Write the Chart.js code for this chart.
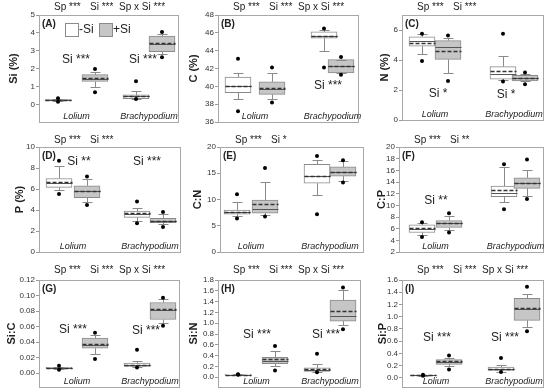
<!DOCTYPE html>
<html>
<head>
<meta charset="utf-8">
<script src="https://cdn.jsdelivr.net/npm/chart.js@4/dist/chart.umd.min.js"></script>
<style>
	body { margin: 0; width: 550px; height: 391px; background: #fff; position: relative; overflow: hidden; }
	.panel { position: absolute; }
</style>
</head>
<body>
<script>
const species = ["Lolium", "Brachypodium"];
const treatments = ["-Si", "+Si"];

// each box: [low whisker, Q1, median, mean, Q3, high whisker]
// order: Lolium -Si, Lolium +Si, Brachypodium -Si, Brachypodium +Si
const siStats = [[0.21, 0.23, 0.26, 0.26, 0.29, 0.32], [1.0, 1.3, 1.45, 1.47, 1.68, 1.85], [0.35, 0.35, 0.47, 0.5, 0.56, 0.75], [2.85, 2.96, 3.4, 3.45, 3.83, 3.92]];
const siDots = [[0.18, 0.37], [0.7, 2.0], [0.33, 1.32], [2.65, 4.05]];
const cStats = [[38.6, 39.3, 40.0, 40.05, 41.05, 41.5], [38.6, 39.1, 39.7, 39.8, 40.5, 41.5], [44.0, 45.4, 45.6, 45.7, 46.1, 46.3], [41.5, 41.5, 42.3, 42.3, 43.0, 43.0]];
const cDots = [[37.2, 43.1], [38.2, 42.1], [42.1, 46.5], [41.3, 43.3]];
const nStats = [[4.38, 4.93, 5.3, 5.15, 5.55, 5.75], [3.11, 4.04, 4.84, 4.6, 5.29, 5.49], [2.65, 2.73, 3.1, 3.27, 3.56, 4.27], [2.6, 2.6, 2.78, 2.8, 2.98, 3.05]];
const nDots = [[3.93, 5.75], [2.6, 5.64], [2.56, 5.75], [2.38, 3.16]];
const pStats = [[5.87, 6.15, 6.6, 6.69, 7.0, 8.2], [4.8, 5.17, 5.8, 5.85, 6.3, 7.0], [3.0, 3.3, 3.65, 3.69, 3.9, 4.23], [2.65, 2.8, 3.0, 3.0, 3.2, 3.6]];
const pDots = [[5.52, 8.7], [4.48, 7.2], [2.74, 4.8], [2.37, 3.8]];
const cnStats = [[6.8, 7.2, 7.6, 7.7, 8.0, 9.5], [7.0, 7.4, 8.2, 9.1, 9.9, 13.4], [10.85, 13.1, 14.5, 14.5, 16.7, 17.5], [13.5, 14.45, 15.3, 15.3, 16.2, 17.3]];
const cnDots = [[6.4, 11.0], [6.75, 16.0], [7.2, 18.3], [13.25, 17.5]];
const cpStats = [[5.0, 5.35, 5.98, 6.05, 6.66, 6.9], [5.7, 6.2, 6.9, 6.95, 7.4, 8.2], [10.5, 11.5, 12.06, 12.7, 13.3, 16.5], [11.6, 12.9, 13.9, 13.9, 14.7, 16.0]];
const cpDots = [[4.56, 7.1], [5.35, 8.65], [9.33, 17.06], [11.1, 17.85]];
const sicStats = [[0.005, 0.0055, 0.0065, 0.0066, 0.0075, 0.008], [0.025, 0.032, 0.0364, 0.037, 0.045, 0.049], [0.008, 0.0086, 0.0105, 0.011, 0.0129, 0.016], [0.064, 0.069, 0.081, 0.082, 0.091, 0.095]];
const sicDots = [[0.0043, 0.0094], [0.018, 0.052], [0.007, 0.030], [0.061, 0.097]];
const sinStats = [[0.045, 0.045, 0.05, 0.05, 0.055, 0.055], [0.2, 0.25, 0.31, 0.34, 0.37, 0.48], [0.1, 0.106, 0.14, 0.15, 0.174, 0.25], [0.96, 1.04, 1.13, 1.22, 1.43, 1.61]];
const sinDots = [[0.045, 0.055], [0.124, 0.58], [0.093, 0.435], [0.89, 1.66]];
const sipStats = [[0.035, 0.038, 0.042, 0.042, 0.046, 0.05], [0.19, 0.22, 0.26, 0.27, 0.30, 0.33], [0.1, 0.12, 0.138, 0.14, 0.177, 0.21], [0.83, 0.94, 1.12, 1.14, 1.30, 1.37]];
const sipDots = [[0.035, 0.05], [0.138, 0.365], [0.094, 0.326], [0.76, 1.49]];

const siTicks = [0, 1, 2, 3, 4, 5];
const cTicks = [36, 38, 40, 42, 44, 46, 48];
const nTicks = [0, 2, 4, 6];
const pTicks = [0, 2, 4, 6, 8, 10];
const cnTicks = [0, 5, 10, 15, 20];
const cpTicks = [2, 4, 6, 8, 10, 12, 14, 16, 18, 20];
const sicTicks = [0, 0.02, 0.04, 0.06, 0.08, 0.10, 0.12];
const sinTicks = [0, 0.2, 0.4, 0.6, 0.8, 1.0, 1.2, 1.4, 1.6, 1.8];
const sipTicks = [0, 0.2, 0.4, 0.6, 0.8, 1.0, 1.2, 1.4, 1.6];

const all3 = ["Sp ***", "Si ***", "Sp x Si ***"];
const panels = [
	{tag: "(A)", title: "Si (%)", stats: siStats, dots: siDots, ticks: siTicks, min: -0.95, max: 5, dec: 0,
		frame: [39, 15, 139, 107], pos: [19, 56, 97, 123], gap: 25, top: all3, noteOff: 8,
		notes: [[37, 2.5, "Si ***"], [104, 2.5, "Si ***"]], legend: true},
	{tag: "(B)", title: "C (%)", stats: cStats, dots: cDots, ticks: cTicks, min: 36, max: 48, dec: 0,
		frame: [218, 15, 140, 107], pos: [20, 54, 106, 123], gap: 24, top: all3, noteOff: 8,
		notes: [[110, 40.1, "Si ***"]]},
	{tag: "(C)", title: "N (%)", stats: nStats, dots: nDots, ticks: nTicks, min: 0, max: 7, dec: 0,
		frame: [402, 15, 141, 105], pos: [20, 46, 101, 123], gap: 17, top: ["Sp ***", "Si ***"], noteOff: 8,
		notes: [[36, 1.75, "Si *"], [104, 1.7, "Si *"]]},
	{tag: "(D)", title: "P (%)", stats: pStats, dots: pDots, ticks: pTicks, min: 0, max: 10, dec: 0,
		frame: [39, 147, 141, 105], pos: [20, 48, 98, 124], gap: 19, top: ["Sp ***", "Si ***"], noteOff: 7,
		notes: [[40, 8.6, "Si **"], [108, 8.6, "Si ***"]]},
	{tag: "(E)", title: "C:N", stats: cnStats, dots: cnDots, ticks: cnTicks, min: 0, max: 20, dec: 0,
		frame: [220, 147, 143, 105], pos: [17, 45, 97, 123], gap: 22, top: ["Sp ***", "Si *"], noteOff: 7,
		notes: []},
	{tag: "(F)", title: "C:P", stats: cpStats, dots: cpDots, ticks: cpTicks, min: 2, max: 20, dec: 0,
		frame: [399, 147, 144, 105], pos: [23, 50, 105, 128], gap: 17, top: ["Sp ***", "Si **"], noteOff: 7,
		notes: [[37, 10.75, "Si **"]]},
	{tag: "(G)", title: "Si:C", stats: sicStats, dots: sicDots, ticks: sicTicks, min: -0.018, max: 0.12, dec: 2,
		frame: [39, 280, 140, 107], pos: [20, 56, 98, 124], gap: 27, top: all3, noteOff: 10,
		notes: [[34, 0.056, "Si ***"], [107, 0.054, "Si ***"]]},
	{tag: "(H)", title: "Si:N", stats: sinStats, dots: sinDots, ticks: sinTicks, min: -0.18, max: 1.8, dec: 1,
		frame: [218, 280, 142, 107], pos: [20, 57, 99, 125], gap: 24, top: all3, noteOff: 10,
		notes: [[39, 0.78, "Si ***"], [108, 0.78, "Si ***"]]},
	{tag: "(I)", title: "Si:P", stats: sipStats, dots: sipDots, ticks: sipTicks, min: -0.15, max: 1.6, dec: 1,
		frame: [402, 280, 141, 107], pos: [21, 47, 99, 125], gap: 19, top: all3, noteOff: 10,
		notes: [[35, 0.66, "Si ***"], [103, 0.66, "Si ***"]]}
];

const FONT = "'Liberation Sans', Arial, sans-serif";
const WHITE = "#ffffff", GREY = "#c6c6c6", EDGE = "#8a8a8a";
Chart.defaults.font.family = FONT;

const boxPlugin = {
	id: "boxes",
	afterDatasetDraw(chart, args, opts) {
		if (args.index !== 0) return;
		const {ctx, scales: {x, y}} = chart;
		const p = opts.panel;
		ctx.save();
		p.stats.forEach((s, i) => {
			const cx = Math.round(x.getPixelForValue(p.pos[i])) + 0.5;
			const hw = 13;
			ctx.strokeStyle = EDGE;
			ctx.lineWidth = 1;
			ctx.setLineDash([]);
			[[s[0], s[1]], [s[5], s[4]]].forEach(([w, q]) => {
				const wy = Math.round(y.getPixelForValue(w)) + 0.5;
				const qy = y.getPixelForValue(q);
				ctx.beginPath();
				ctx.moveTo(cx, qy);
				ctx.lineTo(cx, wy);
				ctx.moveTo(cx - 5, wy);
				ctx.lineTo(cx + 5, wy);
				ctx.stroke();
			});
			// median
			let my = Math.round(y.getPixelForValue(s[2])) + 0.5;
			ctx.strokeStyle = "#555";
			ctx.beginPath();
			ctx.moveTo(cx - hw, my);
			ctx.lineTo(cx + hw, my);
			ctx.stroke();
			// mean
			my = Math.round(y.getPixelForValue(s[3])) + 0.5;
			ctx.strokeStyle = "#333";
			ctx.lineWidth = 1.4;
			ctx.setLineDash([4, 2]);
			ctx.beginPath();
			ctx.moveTo(cx - hw, my);
			ctx.lineTo(cx + hw, my);
			ctx.stroke();
		});
		ctx.restore();
	},
	afterDraw(chart, args, opts) {
		const {ctx, chartArea: a, scales: {x, y}} = chart;
		const p = opts.panel;
		ctx.save();
		ctx.strokeStyle = "#a8a8a8";
		ctx.lineWidth = 1;
		ctx.strokeRect(Math.round(a.left) + 0.5, Math.round(a.top) + 0.5, Math.round(a.right - a.left), Math.round(a.bottom - a.top));

		ctx.fillStyle = "#222";
		ctx.textBaseline = "middle";
		ctx.textAlign = "left";
		ctx.font = "bold 10px " + FONT;
		ctx.fillText(p.tag, a.left + 3, a.top + 9);

		ctx.font = "10px " + FONT;
		const topX = [15, 51, 80];
		p.top.forEach((t, k) => ctx.fillText(t, a.left + topX[k], a.top - p.noteOff));

		ctx.textAlign = "center";
		ctx.font = "12px " + FONT;
		p.notes.forEach(([rx, v, t]) => ctx.fillText(t, a.left + rx, y.getPixelForValue(v)));

		ctx.font = "italic 9px " + FONT;
		species.forEach((sp, k) => {
			const mid = (p.pos[2 * k] + p.pos[2 * k + 1]) / 2;
			ctx.fillText(sp, x.getPixelForValue(mid), a.bottom - 6);
		});

		if (p.legend) {
			ctx.textAlign = "left";
			ctx.font = "12px " + FONT;
			[[26, WHITE], [60, GREY]].forEach(([rx, col], k) => {
				ctx.fillStyle = col;
				ctx.fillRect(a.left + rx, a.top + 8, 13, 13);
				ctx.strokeStyle = EDGE;
				ctx.strokeRect(a.left + rx + 0.5, a.top + 8.5, 13, 13);
				ctx.fillStyle = "#222";
				ctx.fillText(treatments[k], a.left + rx + 14, a.top + 15);
			});
		}
		ctx.restore();
	}
};

panels.forEach(p => {
	const [fl, ft, fw, fh] = p.frame;
	const padTop = ft > 200 ? 18 : ft > 100 ? 17 : 15;
	const div = document.createElement("div");
	div.className = "panel";
	div.style.left = (fl - 39) + "px";
	div.style.top = (ft - padTop) + "px";
	div.style.width = (39 + fw + 6) + "px";
	div.style.height = (padTop + fh + 8) + "px";
	const cv = document.createElement("canvas");
	div.appendChild(cv);
	document.body.appendChild(div);

	const fills = p.stats.map((s, i) => i % 2 ? GREY : WHITE);
	const dotData = [];
	p.dots.forEach((d, i) => d.forEach(v => dotData.push({x: p.pos[i], y: v})));

	new Chart(cv, {
		type: "bar",
		data: {
			datasets: [{
				type: "bar",
				data: p.stats.map((s, i) => ({x: p.pos[i], y: [s[1], s[4]]})),
				backgroundColor: fills,
				borderColor: EDGE,
				borderWidth: 1,
				borderSkipped: false,
				barThickness: 26,
				grouped: false,
				order: 1
			}, {
				type: "scatter",
				data: dotData,
				pointRadius: 2,
				pointBackgroundColor: "#000",
				pointBorderWidth: 0,
				showLine: false,
				order: 0
			}]
		},
		options: {
			responsive: true,
			maintainAspectRatio: false,
			animation: false,
			layout: {padding: {top: padTop, right: 6, bottom: 8, left: 0}},
			plugins: {legend: {display: false}, tooltip: {enabled: false}, boxes: {panel: p}},
			scales: {
				x: {type: "linear", min: 0, max: fw, display: false, offset: false},
				y: {
					min: p.min,
					max: p.max,
					afterFit: s => { s.width = 39; },
					afterBuildTicks: s => { s.ticks = p.ticks.map(v => ({value: v})); },
					ticks: {
						autoSkip: false,
						callback: v => Number(v).toFixed(p.dec),
						font: {size: 8},
						color: "#333",
						padding: 1
					},
					grid: {drawOnChartArea: false, tickLength: 3, color: "#999"},
					border: {display: false},
					title: {
						display: true,
						text: p.title,
						color: "#222",
						font: {size: 11, weight: "bold"},
						padding: {top: 39 - p.gap - 6.6, bottom: 0}
					}
				}
			}
		},
		plugins: [boxPlugin]
	});
});
</script>
</body>
</html>
